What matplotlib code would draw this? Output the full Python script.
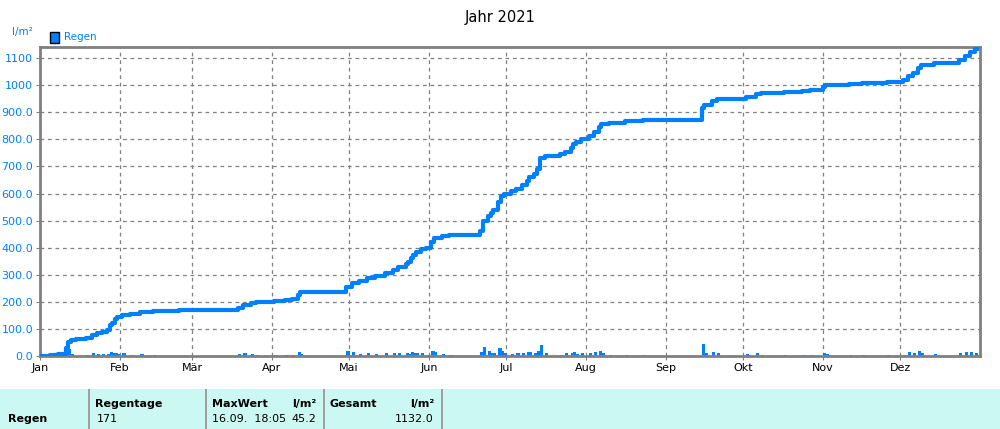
import numpy as np
import matplotlib.pyplot as plt
from matplotlib.patches import Rectangle

# Tage mit Regen: (Tag im Jahr, l/m²)
rain_days = [2, 5, 8, 11, 12, 13, 15, 19, 21, 23, 25, 27, 28, 29, 30, 31,
             33, 36, 40, 45, 50, 55,
             78, 80, 83, 85,
             92, 96, 99, 100, 101, 102,
             120, 122, 125, 128, 131, 135, 138, 140, 143, 144, 145, 146, 147, 149, 151,
             153, 154, 157, 160, 172, 173, 175, 176, 177, 179, 180, 181,
             184, 186, 188, 190, 191, 193, 194, 195, 197, 203, 205, 207, 208, 209, 211,
             214, 216, 218, 219, 222, 228, 235,
             258, 259, 262, 264,
             275, 279, 281, 290, 297, 300,
             305, 306, 315, 320, 330,
             336, 338, 340, 342, 343, 348, 358, 360, 362, 364]
rain_mm = [2, 3, 3, 20, 25, 8, 2, 3, 10, 8, 6, 8, 15, 10, 12, 8,
           10, 4, 6, 3, 2, 2,
           8, 12, 6, 4,
           3, 4, 3, 2, 15, 8,
           20, 15, 8, 10, 8, 12, 10, 12, 10, 8, 15, 10, 12, 10, 5,
           20, 15, 8, 5, 15, 35, 20, 10, 12, 30, 20, 10,
           8, 10, 12, 15, 15, 12, 18, 40, 10, 5, 10, 12, 15, 8, 10,
           12, 15, 20, 10, 5, 5, 3,
           45.2, 10, 15, 10,
           6, 10, 5, 3, 4, 4,
           12, 8, 3, 4, 3,
           5, 15, 12, 20, 10, 6, 12, 15, 15, 9.8]
month_starts = [1, 32, 60, 91, 121, 152, 182, 213, 244, 274, 305, 335]
month_labels = ['Jan', 'Feb', 'Mär', 'Apr', 'Mai', 'Jun', 'Jul', 'Aug', 'Sep', 'Okt', 'Nov', 'Dez']
y_ticks = [0, 100, 200, 300, 400, 500, 600, 700, 800, 900, 1000, 1100]
y_labels = ['0.0', '100.0', '200.0', '300.0', '400.0', '500.0', '600.0', '700.0', '800.0', '900.0', '1000', '1100']

blue = '#0080ff'
days = np.arange(1, 366)
daily = np.zeros(365)
for d, v in zip(rain_days, rain_mm):
    daily[d - 1] += v
cum = np.cumsum(daily)

fig = plt.figure(figsize=(10, 4.29), dpi=100)
ax = fig.add_axes([0.04, 0.17, 0.94, 0.72])
ax.bar(days, daily, width=1.2, color=blue, align='edge', zorder=2)
ax.step(days, cum, where='post', color=blue, lw=3, zorder=3)
ax.set_xlim(1, 366)
ax.set_ylim(0, 1140)
ax.set_xticks(month_starts)
ax.set_xticklabels(month_labels, fontsize=8)
ax.set_yticks(y_ticks)
ax.set_yticklabels(y_labels, fontsize=8, color=blue)
ax.grid(True, color='#808080', ls=(0, (3, 3)), lw=0.9)
ax.tick_params(length=3, color='#808080', pad=2)
for s in ax.spines.values():
    s.set_color('#808080')
    s.set_linewidth(2)

fig.text(0.5, 0.96, 'Jahr 2021', ha='center', va='center', fontsize=10.5)
fig.text(0.012, 0.925, 'l/m²', color=blue, fontsize=7.5, va='center')
fig.patches.append(Rectangle((0.05, 0.9), 0.009, 0.026, transform=fig.transFigure,
                             facecolor=blue, edgecolor='black', lw=1))
fig.text(0.064, 0.913, 'Regen', color=blue, fontsize=7.5, va='center')

# Tabelle unten
fig.patches.append(Rectangle((0, 0), 1, 40 / 429, transform=fig.transFigure,
                             facecolor='#ccf8f4', edgecolor='none'))
for x in [88, 205, 323, 441]:
    fig.patches.append(Rectangle((x / 1000, 0), 2 / 1000, 40 / 429, transform=fig.transFigure,
                                 facecolor='#a0a0a0', edgecolor='none'))
row1, row2 = 1 - 404 / 429, 1 - 419 / 429
bold = dict(fontsize=8, fontweight='bold', va='center')
norm = dict(fontsize=8, va='center')
fig.text(0.008, row2, 'Regen', **bold)
fig.text(0.095, row1, 'Regentage', **bold)
fig.text(0.097, row2, '171', **norm)
fig.text(0.212, row1, 'MaxWert', **bold)
fig.text(0.316, row1, 'l/m²', ha='right', **bold)
fig.text(0.212, row2, '16.09.  18:05', **norm)
fig.text(0.316, row2, '45.2', ha='right', **norm)
fig.text(0.330, row1, 'Gesamt', **bold)
fig.text(0.434, row1, 'l/m²', ha='right', **bold)
fig.text(0.434, row2, '1132.0', ha='right', **norm)

fig.savefig('out.png', dpi=100)
